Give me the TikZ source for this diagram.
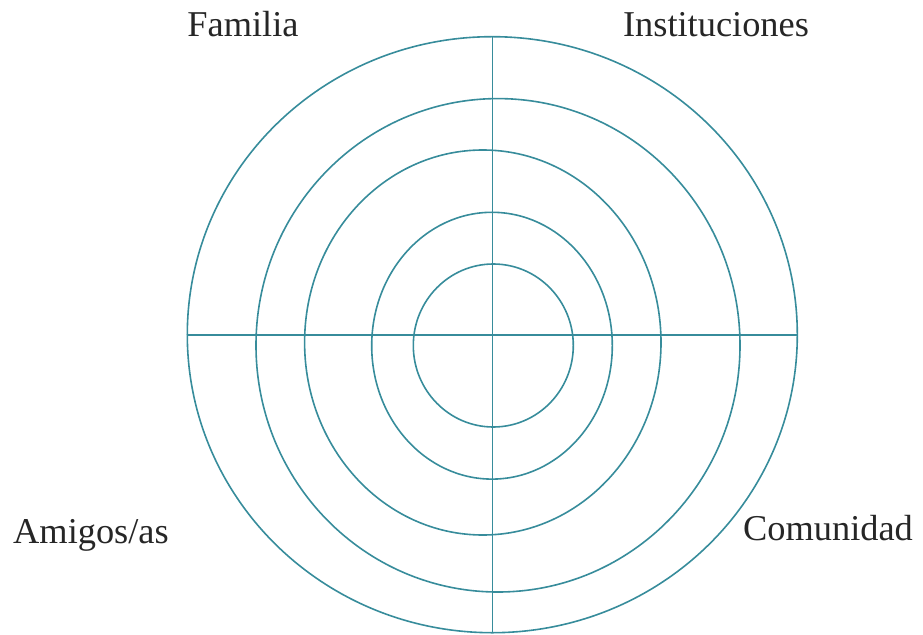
\documentclass[tikz,border=0pt]{standalone}
\usepackage{fontspec}
\setmainfont{Liberation Serif}
\definecolor{ringcol}{RGB}{55,140,155}
\begin{document}
\begin{tikzpicture}[x=1bp,y=-1bp,
  ring/.style={draw=ringcol, line width=1.6bp},
  lbl/.style={font=\fontsize{36.5}{40}\selectfont, anchor=base, inner sep=0pt, text=black!85}]
\useasboundingbox (0,0) rectangle (923,635);
% rings
\draw[ring] (492.3,334.7) ellipse [x radius=305bp, y radius=298bp];
\draw[ring] (498,345.3) ellipse [x radius=242bp, y radius=246.7bp];
\draw[ring] (482.8,342.5) ellipse [x radius=178.2bp, y radius=192.5bp];
\draw[ring] (492,345.7) ellipse [x radius=120.3bp, y radius=133.4bp];
\draw[ring] (493.3,345.5) ellipse [x radius=80bp, y radius=81.5bp];
% axes
\coordinate (west) at (187.3,335);
\coordinate (east) at (797.3,335);
\coordinate (north) at (492.3,36.7);
\coordinate (south) at (492.3,632.7);
\draw[ring] (west) -- (east);
\draw[ring] (north) -- (south);
% labels
\node[lbl] (familia) at (243,37) {Familia};
\node[lbl] (instituciones) at (716,37) {Instituciones};
\node[lbl] (amigos) at (91,543) {Amigos/as};
\node[lbl] (comunidad) at (828,540) {Comunidad};
\end{tikzpicture}
\end{document}
